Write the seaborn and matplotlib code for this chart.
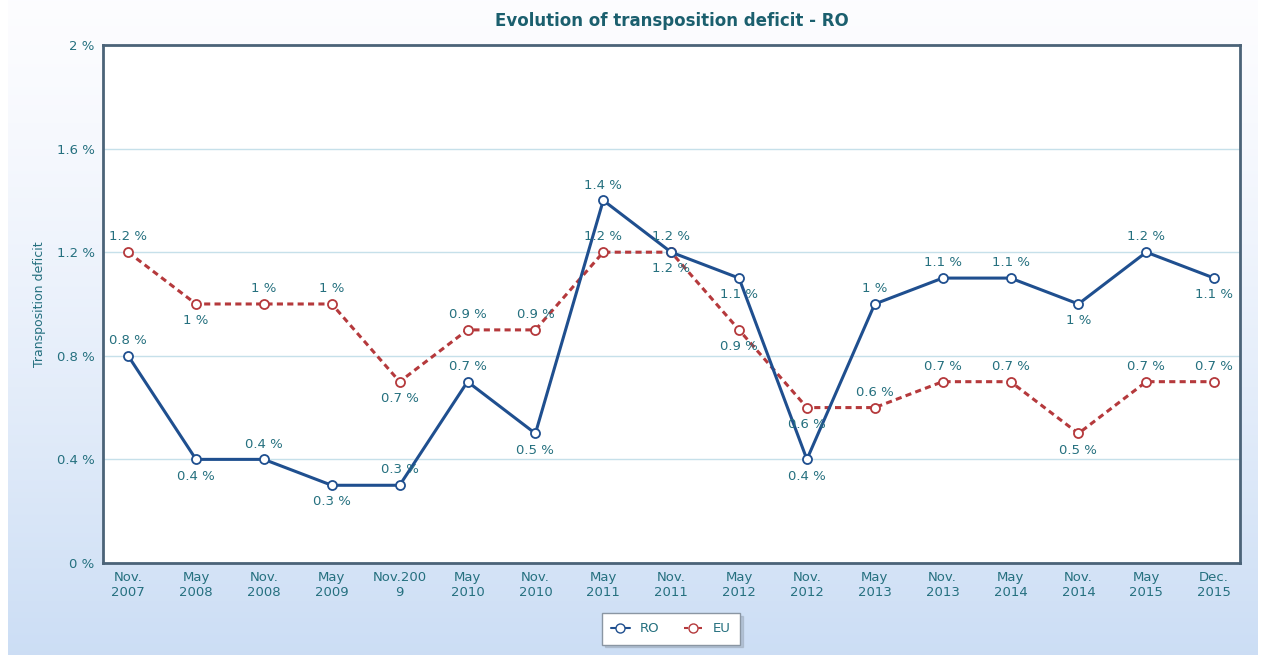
import pandas as pd
import matplotlib.pyplot as plt
import seaborn as sns
import numpy as np
from matplotlib.lines import Line2D

periods = ["Nov.\n2007", "May\n2008", "Nov.\n2008", "May\n2009", "Nov.200\n9", "May\n2010",
           "Nov.\n2010", "May\n2011", "Nov.\n2011", "May\n2012", "Nov.\n2012", "May\n2013",
           "Nov.\n2013", "May\n2014", "Nov.\n2014", "May\n2015", "Dec.\n2015"]
ro = [0.8, 0.4, 0.4, 0.3, 0.3, 0.7, 0.5, 1.4, 1.2, 1.1, 0.4, 1.0, 1.1, 1.1, 1.0, 1.2, 1.1]
eu = [1.2, 1.0, 1.0, 1.0, 0.7, 0.9, 0.9, 1.2, 1.2, 0.9, 0.6, 0.6, 0.7, 0.7, 0.5, 0.7, 0.7]
# label placement: 1 = above the point, -1 = below
ro_pos = [1, -1, 1, -1, 1, 1, -1, 1, 1, -1, -1, 1, 1, 1, -1, 1, -1]
eu_pos = [1, -1, 1, 1, -1, 1, 1, 1, -1, -1, -1, 1, 1, 1, -1, 1, 1]
yticks = [0, 0.4, 0.8, 1.2, 1.6, 2.0]

df = pd.DataFrame({"x": range(len(periods)), "RO": ro, "EU": eu})

txt = "#25707f"
ro_col = "#1f4f8f"
eu_col = "#b5393c"

sns.set_style("white")
fig = plt.figure(figsize=(12.61, 6.55), dpi=100)

# background gradient
bg = fig.add_axes([0.006, 0, 0.991, 1], zorder=-10)
grad = np.linspace(0, 1, 256).reshape(-1, 1)
c_top = np.array([0.99, 0.99, 1.0])
c_bot = np.array([0.80, 0.87, 0.96])
img = c_top + (c_bot - c_top) * (grad ** 1.3)[:, :, None]
bg.imshow(img.reshape(256, 1, 3), aspect="auto", extent=[0, 1, 0, 1])
bg.axis("off")

ax = fig.add_axes([0.0817, 0.1405, 0.9016, 0.7908])
ax.set_facecolor("white")
sns.lineplot(data=df, x="x", y="RO", ax=ax, color=ro_col, linewidth=2.2, marker="o",
             markersize=6.5, markerfacecolor="white", markeredgecolor=ro_col, markeredgewidth=1.3, zorder=4)
sns.lineplot(data=df, x="x", y="EU", ax=ax, color=eu_col, linewidth=2.2, linestyle=(0, (2, 1.4)),
             marker="o", markersize=6.5, markerfacecolor="white", markeredgecolor=eu_col,
             markeredgewidth=1.3, zorder=3)

def fmt(v):
    return ("%g" % v) + " %"

for i in range(len(periods)):
    for vals, pos in ((ro, ro_pos), (eu, eu_pos)):
        v = vals[i]
        off = 11 if pos[i] > 0 else -12
        ax.annotate(fmt(v), (i, v), xytext=(0, off), textcoords="offset points",
                    ha="center", va="center", fontsize=9.5, color=txt, zorder=6)

ax.set_xlim(-0.37, 16.38)
ax.set_ylim(0, 2)
ax.set_xticks(range(len(periods)))
ax.set_xticklabels(periods, fontsize=9.5, color=txt, linespacing=1.2)
ax.set_yticks(yticks)
ax.set_yticklabels([fmt(t) for t in yticks], fontsize=9.5, color=txt)
ax.tick_params(length=0, pad=6)
ax.grid(axis="y", color="#c6e0ea", linewidth=1)
ax.set_axisbelow(True)
for s in ax.spines.values():
    s.set_color("#4b6378")
    s.set_linewidth(2)
ax.set_xlabel("")
ax.set_ylabel("Transposition deficit", fontsize=9, color=txt, labelpad=8)
ax.set_title("Evolution of transposition deficit - RO", fontsize=12, fontweight="bold",
             color="#1b5f6e", pad=14)

handles = [Line2D([], [], color=ro_col, linewidth=1.5, marker="o", markerfacecolor="white",
                  markeredgecolor=ro_col, markersize=6.5),
           Line2D([], [], color=eu_col, linewidth=1.5, linestyle=(0, (2, 1.4)), marker="o",
                  markerfacecolor="white", markeredgecolor=eu_col, markersize=6.5)]
leg = fig.legend(handles, ["RO", "EU"], loc="center", bbox_to_anchor=(0.532, 0.04), ncol=2,
                 frameon=True, fancybox=False, shadow={"color": "#9aa8b8", "alpha": 0.5},
                 fontsize=9.5, handlelength=1.4, columnspacing=1.8, borderpad=0.7)
leg.get_frame().set_edgecolor("#8a96a3")
for t in leg.get_texts():
    t.set_color(txt)

fig.savefig("out.png", dpi=100)
